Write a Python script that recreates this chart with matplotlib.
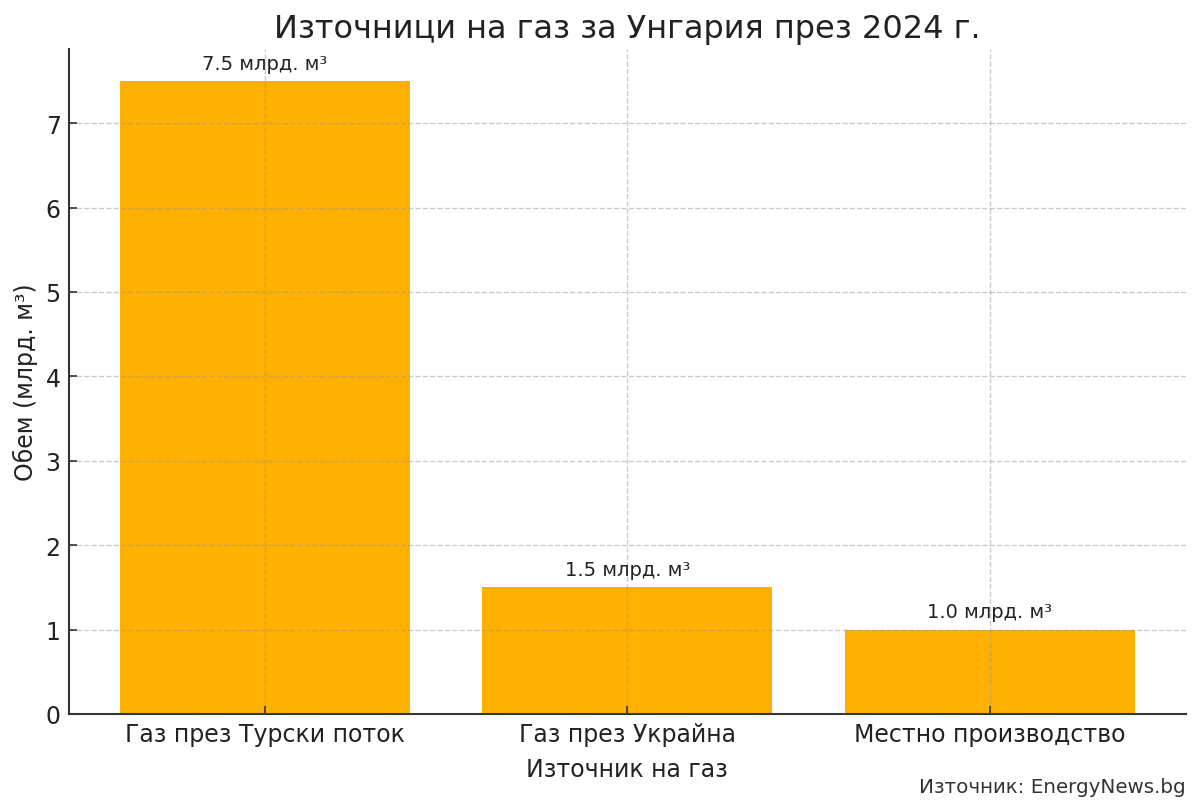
import matplotlib
matplotlib.use("Agg")
import matplotlib.pyplot as plt

categories = ["Газ през Турски поток", "Газ през Украйна", "Местно производство"]
values = [7.5, 1.5, 1.0]
labels = ["7.5 млрд. м³", "1.5 млрд. м³", "1.0 млрд. м³"]

plt.rcParams['font.family'] = ['DejaVu Sans']
fig = plt.figure(figsize=(12, 8.12), dpi=100)
ax = fig.add_axes([0.0575, 0.1195, 0.9305, 0.8185])

x = range(len(categories))
bars = ax.bar(x, values, width=0.8, color='#FFB000', zorder=1)
ax.set_ylim(0, max(values) * 1.05)
ax.set_xticks(list(x))
ax.set_xticklabels(categories, fontsize=17, color='#222222')
ax.tick_params(axis='y', labelsize=17, labelcolor='#222222')
ax.tick_params(direction='in', length=6, width=1.2, color='#333333', pad=6)

for b, lab in zip(bars, labels):
    ax.text(b.get_x() + b.get_width() / 2, b.get_height() + 0.1, lab,
            ha='center', va='bottom', fontsize=14, color='#222222')

ax.grid(True, linestyle='--', color='#999999', alpha=0.5, linewidth=1, zorder=2)
ax.set_axisbelow(False)
for s in ['top', 'right']:
    ax.spines[s].set_visible(False)
for s in ['left', 'bottom']:
    ax.spines[s].set_color('#333333')
    ax.spines[s].set_linewidth(1.5)

ax.set_title("Източници на газ за Унгария през 2024 г.", fontsize=23, color='#222222', pad=9)
ax.set_xlabel("Източник на газ", fontsize=17, color='#222222', labelpad=8)
ax.set_ylabel("Обем (млрд. м³)", fontsize=17, color='#222222', labelpad=5)

fig.text(0.988, 0.018, "Източник: EnergyNews.bg", ha='right', va='bottom', fontsize=14.3, color='#333333')

fig.savefig("out.png", dpi=100)
